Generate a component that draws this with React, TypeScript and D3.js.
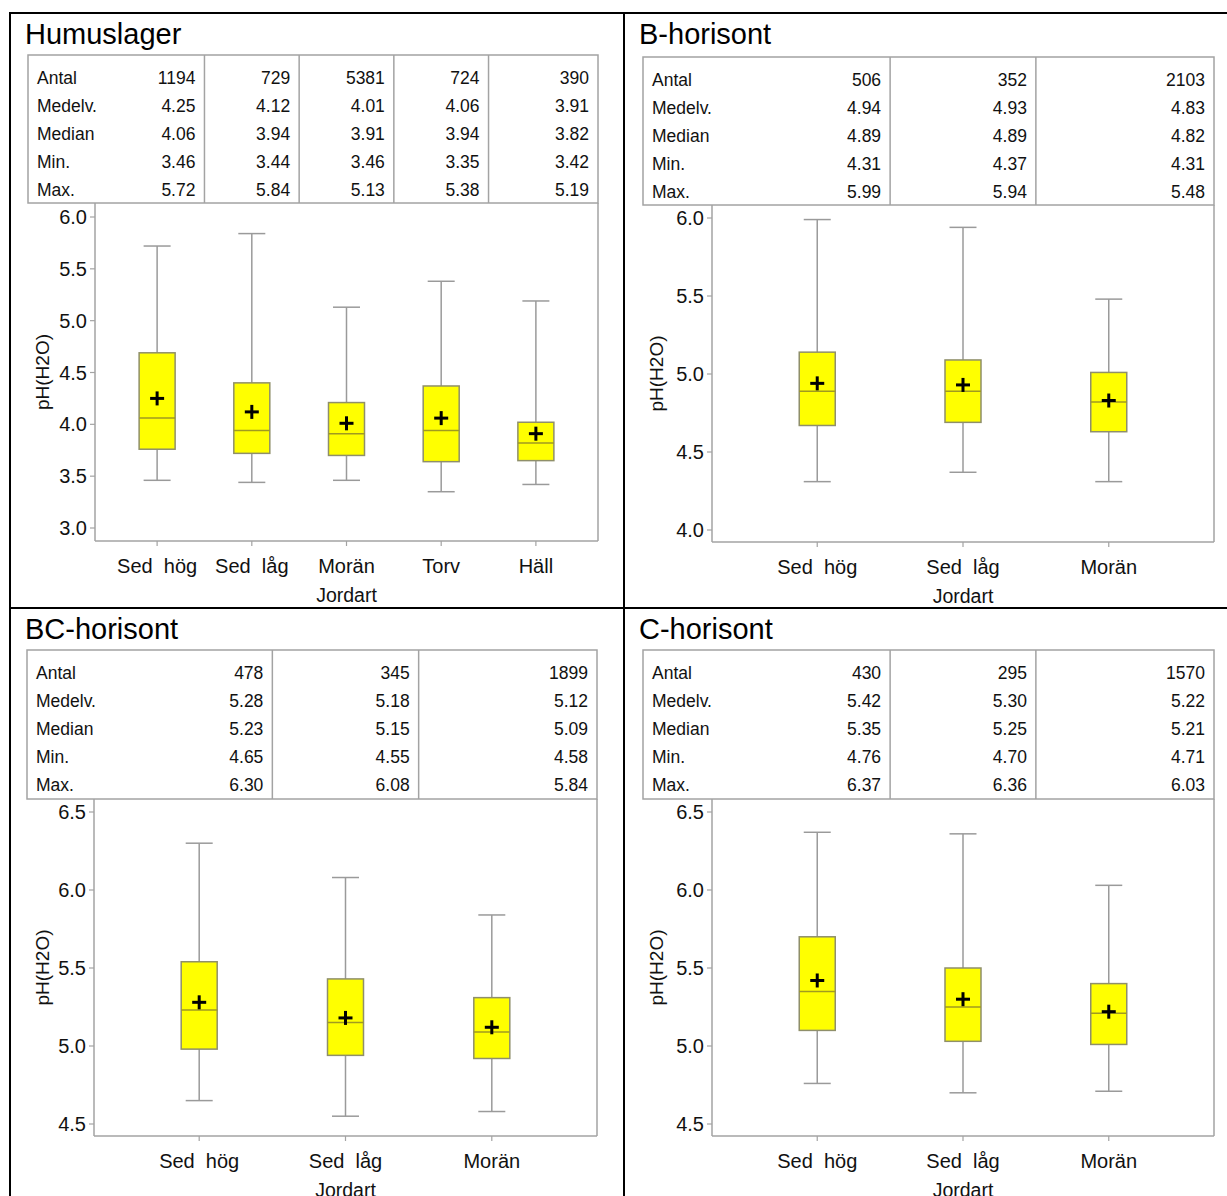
import React from "react";
import * as d3 from "d3";

const rowLabels = ["Antal", "Medelv.", "Median", "Min.", "Max."];
const axisTitleX = "Jordart";
const axisTitleY = "pH(H2O)";

const humusTitle = "Humuslager";
const humusCategories = ["Sed  hög", "Sed  låg", "Morän", "Torv", "Häll"];
const humusN = [1194, 729, 5381, 724, 390];
const humusMean = [4.25, 4.12, 4.01, 4.06, 3.91];
const humusMedian = [4.06, 3.94, 3.91, 3.94, 3.82];
const humusMin = [3.46, 3.44, 3.46, 3.35, 3.42];
const humusMax = [5.72, 5.84, 5.13, 5.38, 5.19];
const humusQ1 = [3.76, 3.72, 3.7, 3.64, 3.65];
const humusQ3 = [4.69, 4.4, 4.21, 4.37, 4.02];
const humusTicks = [3.0, 3.5, 4.0, 4.5, 5.0, 5.5, 6.0];

const threeCategories = ["Sed  hög", "Sed  låg", "Morän"];

const bTitle = "B-horisont";
const bN = [506, 352, 2103];
const bMean = [4.94, 4.93, 4.83];
const bMedian = [4.89, 4.89, 4.82];
const bMin = [4.31, 4.37, 4.31];
const bMax = [5.99, 5.94, 5.48];
const bQ1 = [4.67, 4.69, 4.63];
const bQ3 = [5.14, 5.09, 5.01];
const bTicks = [4.0, 4.5, 5.0, 5.5, 6.0];

const bcTitle = "BC-horisont";
const bcN = [478, 345, 1899];
const bcMean = [5.28, 5.18, 5.12];
const bcMedian = [5.23, 5.15, 5.09];
const bcMin = [4.65, 4.55, 4.58];
const bcMax = [6.3, 6.08, 5.84];
const bcQ1 = [4.98, 4.94, 4.92];
const bcQ3 = [5.54, 5.43, 5.31];
const bcTicks = [4.5, 5.0, 5.5, 6.0, 6.5];

const cTitle = "C-horisont";
const cN = [430, 295, 1570];
const cMean = [5.42, 5.3, 5.22];
const cMedian = [5.35, 5.25, 5.21];
const cMin = [4.76, 4.7, 4.71];
const cMax = [6.37, 6.36, 6.03];
const cQ1 = [5.1, 5.03, 5.01];
const cQ3 = [5.7, 5.5, 5.4];
const cTicks = [4.5, 5.0, 5.5, 6.0, 6.5];

const FONT = "'Liberation Sans', Arial, Helvetica, sans-serif";
const GRID = "#a3a3a3";

type PanelCfg = {
  title: string;
  cats: string[];
  n: number[];
  mean: number[];
  median: number[];
  min: number[];
  max: number[];
  q1: number[];
  q3: number[];
  ticks: number[];
  // layout
  ox: number;
  oy: number;
  tableLeft: number;
  axisX: number;
  right: number;
  padOuter: number;
  tableTop: number;
  tableBottom: number;
  yTopPx: number;
  yBotPx: number;
  bottomAxis: number;
};

const panels: PanelCfg[] = [
  {
    title: humusTitle, cats: humusCategories, n: humusN, mean: humusMean, median: humusMedian,
    min: humusMin, max: humusMax, q1: humusQ1, q3: humusQ3, ticks: humusTicks,
    ox: 10, oy: 13, tableLeft: 28, axisX: 95, right: 598, padOuter: 0.156,
    tableTop: 55, tableBottom: 203, yTopPx: 217, yBotPx: 528, bottomAxis: 541,
  },
  {
    title: bTitle, cats: threeCategories, n: bN, mean: bMean, median: bMedian,
    min: bMin, max: bMax, q1: bQ1, q3: bQ3, ticks: bTicks,
    ox: 624, oy: 13, tableLeft: 643, axisX: 712, right: 1214, padOuter: 0.222,
    tableTop: 57, tableBottom: 205, yTopPx: 218, yBotPx: 530, bottomAxis: 542,
  },
  {
    title: bcTitle, cats: threeCategories, n: bcN, mean: bcMean, median: bcMedian,
    min: bcMin, max: bcMax, q1: bcQ1, q3: bcQ3, ticks: bcTicks,
    ox: 10, oy: 608, tableLeft: 27, axisX: 94, right: 597, padOuter: 0.219,
    tableTop: 650, tableBottom: 799, yTopPx: 812, yBotPx: 1124, bottomAxis: 1136,
  },
  {
    title: cTitle, cats: threeCategories, n: cN, mean: cMean, median: cMedian,
    min: cMin, max: cMax, q1: cQ1, q3: cQ3, ticks: cTicks,
    ox: 624, oy: 608, tableLeft: 643, axisX: 712, right: 1214, padOuter: 0.222,
    tableTop: 650, tableBottom: 799, yTopPx: 812, yBotPx: 1124, bottomAxis: 1136,
  },
];

function Panel({ c }: { c: PanelCfg }) {
  const x = d3
    .scaleBand<string>()
    .domain(c.cats)
    .range([c.axisX, c.right])
    .paddingInner(0)
    .paddingOuter(c.padOuter);
  const y = d3
    .scaleLinear()
    .domain([c.ticks[0], c.ticks[c.ticks.length - 1]])
    .range([c.yBotPx, c.yTopPx]);
  const cx = (cat: string) => (x(cat) as number) + x.bandwidth() / 2;
  const boxW = 36;
  const capW = 27;
  const fmt2 = d3.format(".2f");
  const rows: string[][] = [
    c.n.map((v) => String(v)),
    c.mean.map(fmt2),
    c.median.map(fmt2),
    c.min.map(fmt2),
    c.max.map(fmt2),
  ];
  const colRights = c.cats.map((cat, i) =>
    i < c.cats.length - 1 ? (x(c.cats[i + 1]) as number) : c.right
  );
  const rowBase0 = c.tableTop + 29;
  const rowStep = 28;

  return (
    <g fontFamily={FONT}>
      <text x={c.ox + 15} y={c.oy + 31} fontSize={29} fill="#000">
        {c.title}
      </text>
      {/* stats table */}
      <rect
        x={c.tableLeft}
        y={c.tableTop}
        width={c.right - c.tableLeft}
        height={c.tableBottom - c.tableTop}
        fill="none"
        stroke={GRID}
        strokeWidth={1.5}
      />
      {colRights.slice(0, -1).map((cr, i) => (
        <line key={"cl" + i} x1={cr} x2={cr} y1={c.tableTop} y2={c.tableBottom} stroke={GRID} strokeWidth={1.5} />
      ))}
      {rowLabels.map((lab, r) => (
        <text key={"rl" + r} x={c.tableLeft + 9} y={rowBase0 + r * rowStep} fontSize={17.5} fill="#111">
          {lab}
        </text>
      ))}
      {rows.map((vals, r) =>
        vals.map((v, i) => (
          <text
            key={"v" + r + "-" + i}
            x={colRights[i] - 9}
            y={rowBase0 + r * rowStep}
            fontSize={17.5}
            textAnchor="end"
            fill="#111"
          >
            {v}
          </text>
        ))
      )}
      {/* plot frame */}
      <line x1={c.axisX} x2={c.axisX} y1={c.tableBottom} y2={c.bottomAxis} stroke={GRID} strokeWidth={1.5} />
      <line x1={c.right} x2={c.right} y1={c.tableBottom} y2={c.bottomAxis} stroke={GRID} strokeWidth={1.5} />
      <line x1={c.axisX} x2={c.right} y1={c.bottomAxis} y2={c.bottomAxis} stroke={GRID} strokeWidth={1.5} />
      {/* y ticks */}
      {c.ticks.map((t) => (
        <g key={"yt" + t}>
          <line x1={c.axisX - 5} x2={c.axisX} y1={y(t)} y2={y(t)} stroke={GRID} strokeWidth={1.2} />
          <text x={c.axisX - 8} y={y(t) + 7} fontSize={20} textAnchor="end" fill="#111">
            {d3.format(".1f")(t)}
          </text>
        </g>
      ))}
      <text
        transform={`translate(${c.ox + 39},${(c.tableBottom + c.bottomAxis) / 2}) rotate(-90)`}
        fontSize={19}
        textAnchor="middle"
        fill="#111"
      >
        {axisTitleY}
      </text>
      {/* x ticks */}
      {c.cats.map((cat) => (
        <g key={"xt" + cat}>
          <line x1={cx(cat)} x2={cx(cat)} y1={c.bottomAxis} y2={c.bottomAxis + 5} stroke={GRID} strokeWidth={1.2} />
          <text
            x={cx(cat)}
            y={c.bottomAxis + 32}
            fontSize={20}
            textAnchor="middle"
            fill="#111"
            style={{ whiteSpace: "pre" }}
          >
            {cat}
          </text>
        </g>
      ))}
      <text
        x={(c.axisX + c.right) / 2}
        y={c.bottomAxis + 61}
        fontSize={19.5}
        textAnchor="middle"
        fill="#111"
      >
        {axisTitleX}
      </text>
      {/* boxes */}
      {c.cats.map((cat, i) => {
        const xc = cx(cat);
        return (
          <g key={"box" + cat}>
            <line x1={xc} x2={xc} y1={y(c.max[i])} y2={y(c.q3[i])} stroke="#9a9a9a" strokeWidth={1.5} />
            <line x1={xc} x2={xc} y1={y(c.q1[i])} y2={y(c.min[i])} stroke="#9a9a9a" strokeWidth={1.5} />
            <line x1={xc - capW / 2} x2={xc + capW / 2} y1={y(c.max[i])} y2={y(c.max[i])} stroke="#9a9a9a" strokeWidth={1.5} />
            <line x1={xc - capW / 2} x2={xc + capW / 2} y1={y(c.min[i])} y2={y(c.min[i])} stroke="#9a9a9a" strokeWidth={1.5} />
            <rect
              x={xc - boxW / 2}
              y={y(c.q3[i])}
              width={boxW}
              height={y(c.q1[i]) - y(c.q3[i])}
              fill="#ffff00"
              stroke="#8f8f6a"
              strokeWidth={1.5}
            />
            <line x1={xc - boxW / 2} x2={xc + boxW / 2} y1={y(c.median[i])} y2={y(c.median[i])} stroke="#a09a20" strokeWidth={1.5} />
            <line x1={xc - 7} x2={xc + 7} y1={y(c.mean[i])} y2={y(c.mean[i])} stroke="#000" strokeWidth={3} />
            <line x1={xc} x2={xc} y1={y(c.mean[i]) - 7} y2={y(c.mean[i]) + 7} stroke="#000" strokeWidth={3} />
          </g>
        );
      })}
    </g>
  );
}

export default function App() {
  return (
    <svg
      width={1227}
      height={1196}
      style={{ position: "absolute", left: 0, top: 0, background: "#fff" }}
    >
      <rect x={0} y={0} width={1227} height={1196} fill="#fff" />
      {panels.map((p, i) => (
        <Panel key={i} c={p} />
      ))}
      {/* outer black grid */}
      <line x1={10} x2={1227} y1={13} y2={13} stroke="#000" strokeWidth={2} />
      <line x1={10} x2={10} y1={12} y2={1196} stroke="#000" strokeWidth={2} />
      <line x1={624} x2={624} y1={12} y2={1196} stroke="#000" strokeWidth={2} />
      <line x1={10} x2={1227} y1={608} y2={608} stroke="#000" strokeWidth={2} />
    </svg>
  );
}
